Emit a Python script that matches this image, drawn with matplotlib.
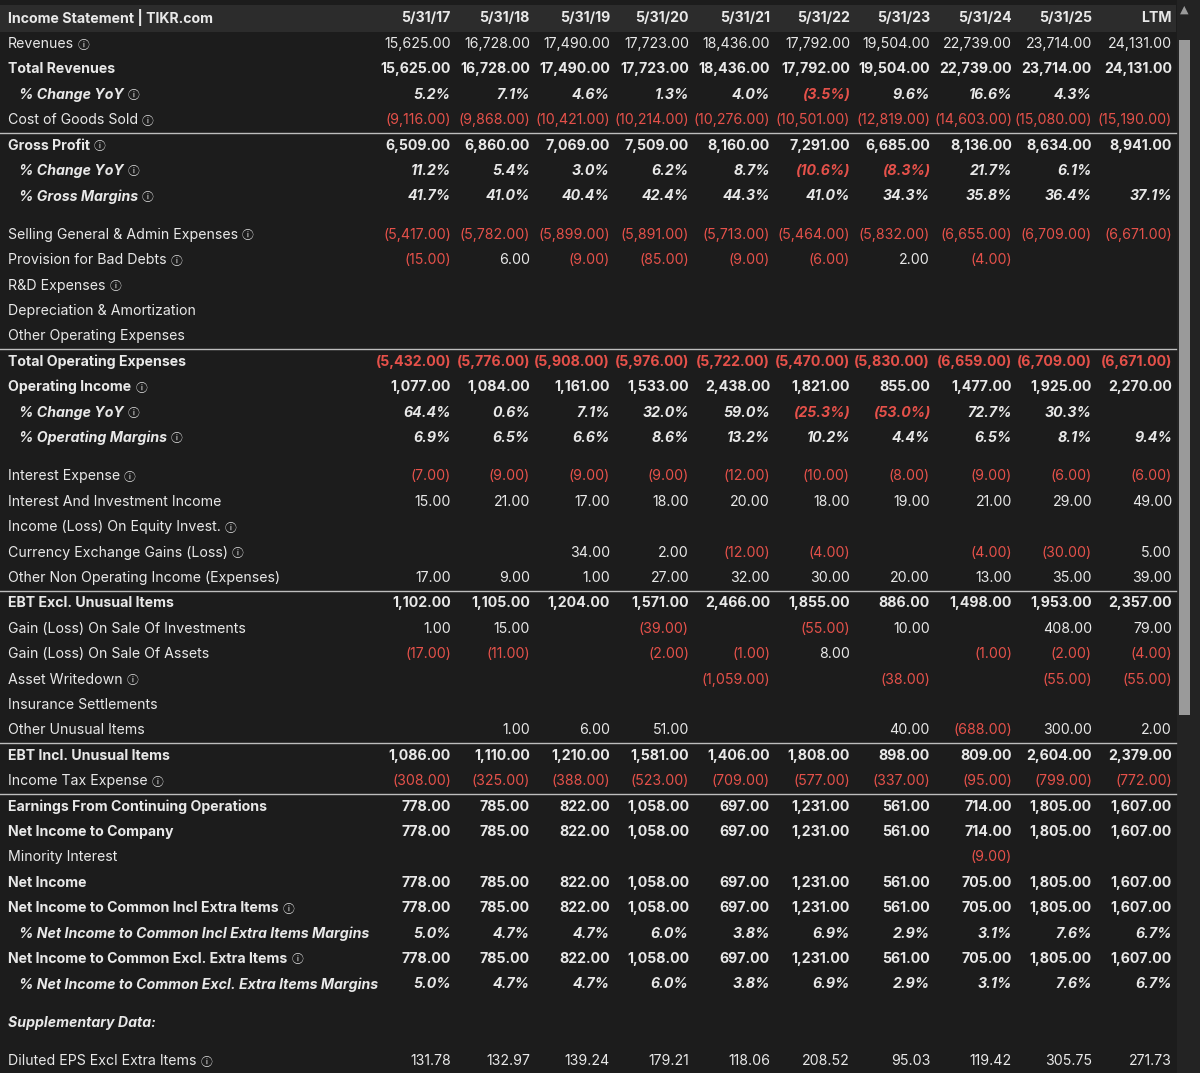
import matplotlib
matplotlib.use('Agg')
from matplotlib import pyplot as plt
from matplotlib.patches import Rectangle

plt.rcParams['font.family'] = ['Inter', 'DejaVu Sans']

N = None
years = ['5/31/17', '5/31/18', '5/31/19', '5/31/20', '5/31/21',
         '5/31/22', '5/31/23', '5/31/24', '5/31/25', 'LTM']

revenues = [15625, 16728, 17490, 17723, 18436, 17792, 19504, 22739, 23714, 24131]
rev_yoy = [5.2, 7.1, 4.6, 1.3, 4.0, -3.5, 9.6, 16.6, 4.3, N]
cogs = [-9116, -9868, -10421, -10214, -10276, -10501, -12819, -14603, -15080, -15190]
gross_profit = [6509, 6860, 7069, 7509, 8160, 7291, 6685, 8136, 8634, 8941]
gp_yoy = [11.2, 5.4, 3.0, 6.2, 8.7, -10.6, -8.3, 21.7, 6.1, N]
gross_margin = [41.7, 41.0, 40.4, 42.4, 44.3, 41.0, 34.3, 35.8, 36.4, 37.1]
sga = [-5417, -5782, -5899, -5891, -5713, -5464, -5832, -6655, -6709, -6671]
bad_debts = [-15, 6, -9, -85, -9, -6, 2, -4, N, N]
empty = [N] * 10
total_opex = [-5432, -5776, -5908, -5976, -5722, -5470, -5830, -6659, -6709, -6671]
op_income = [1077, 1084, 1161, 1533, 2438, 1821, 855, 1477, 1925, 2270]
op_yoy = [64.4, 0.6, 7.1, 32.0, 59.0, -25.3, -53.0, 72.7, 30.3, N]
op_margin = [6.9, 6.5, 6.6, 8.6, 13.2, 10.2, 4.4, 6.5, 8.1, 9.4]
int_exp = [-7, -9, -9, -9, -12, -10, -8, -9, -6, -6]
int_inc = [15, 21, 17, 18, 20, 18, 19, 21, 29, 49]
fx_gains = [N, N, 34, 2, -12, -4, N, -4, -30, 5]
other_nonop = [17, 9, 1, 27, 32, 30, 20, 13, 35, 39]
ebt_excl = [1102, 1105, 1204, 1571, 2466, 1855, 886, 1498, 1953, 2357]
gain_inv = [1, 15, N, -39, N, -55, 10, N, 408, 79]
gain_assets = [-17, -11, N, -2, -1, 8, N, -1, -2, -4]
writedown = [N, N, N, N, -1059, N, -38, N, -55, -55]
other_unusual = [N, 1, 6, 51, N, N, 40, -688, 300, 2]
ebt_incl = [1086, 1110, 1210, 1581, 1406, 1808, 898, 809, 2604, 2379]
income_tax = [-308, -325, -388, -523, -709, -577, -337, -95, -799, -772]
earn_cont = [778, 785, 822, 1058, 697, 1231, 561, 714, 1805, 1607]
minority = [N, N, N, N, N, N, N, -9, N, N]
net_income = [778, 785, 822, 1058, 697, 1231, 561, 705, 1805, 1607]
ni_margin = [5.0, 4.7, 4.7, 6.0, 3.8, 6.9, 2.9, 3.1, 7.6, 6.7]
eps = [131.78, 132.97, 139.24, 179.21, 118.06, 208.52, 95.03, 119.42, 305.75, 271.73]

# (label, values, style, info icon)   style: n normal, b bold, p percent row, s section
rows = [
    ('Revenues', revenues, 'n', True),
    ('Total Revenues', revenues, 'b', False),
    ('% Change YoY', rev_yoy, 'p', True),
    ('Cost of Goods Sold', cogs, 'n', True),
    ('Gross Profit', gross_profit, 'b', True),
    ('% Change YoY', gp_yoy, 'p', True),
    ('% Gross Margins', gross_margin, 'p', True),
    (None, None, 'gap', False),
    ('Selling General & Admin Expenses', sga, 'n', True),
    ('Provision for Bad Debts', bad_debts, 'n', True),
    ('R&D Expenses', empty, 'n', True),
    ('Depreciation & Amortization', empty, 'n', False),
    ('Other Operating Expenses', empty, 'n', False),
    ('Total Operating Expenses', total_opex, 'b', False),
    ('Operating Income', op_income, 'b', True),
    ('% Change YoY', op_yoy, 'p', True),
    ('% Operating Margins', op_margin, 'p', True),
    (None, None, 'gap', False),
    ('Interest Expense', int_exp, 'n', True),
    ('Interest And Investment Income', int_inc, 'n', False),
    ('Income (Loss) On Equity Invest.', empty, 'n', True),
    ('Currency Exchange Gains (Loss)', fx_gains, 'n', True),
    ('Other Non Operating Income (Expenses)', other_nonop, 'n', False),
    ('EBT Excl. Unusual Items', ebt_excl, 'b', False),
    ('Gain (Loss) On Sale Of Investments', gain_inv, 'n', False),
    ('Gain (Loss) On Sale Of Assets', gain_assets, 'n', False),
    ('Asset Writedown', writedown, 'n', True),
    ('Insurance Settlements', empty, 'n', False),
    ('Other Unusual Items', other_unusual, 'n', False),
    ('EBT Incl. Unusual Items', ebt_incl, 'b', False),
    ('Income Tax Expense', income_tax, 'n', True),
    ('Earnings From Continuing Operations', earn_cont, 'b', False),
    ('Net Income to Company', earn_cont, 'b', False),
    ('Minority Interest', minority, 'n', False),
    ('Net Income', net_income, 'b', False),
    ('Net Income to Common Incl Extra Items', net_income, 'b', True),
    ('% Net Income to Common Incl Extra Items Margins', ni_margin, 'p', False),
    ('Net Income to Common Excl. Extra Items', net_income, 'b', True),
    ('% Net Income to Common Excl. Extra Items Margins', ni_margin, 'p', False),
    (None, None, 'gap', False),
    ('Supplementary Data:', None, 's', False),
    (None, None, 'gap', False),
    ('Diluted EPS Excl Extra Items', eps, 'n', True),
]
lines_after = {'Cost of Goods Sold', 'Other Operating Expenses',
               'Other Non Operating Income (Expenses)', 'Other Unusual Items',
               'Income Tax Expense'}

BG = '#1c1c1c'
FG = '#e8e8e8'
RED = '#e5514a'
FS = 10.2
col_x = [451, 530, 610, 689, 770, 850, 930, 1012, 1092, 1172]

fig = plt.figure(figsize=(12, 10.73), dpi=100, facecolor=BG)
ax = fig.add_axes([0, 0, 1, 1])
ax.set_xlim(0, 1200)
ax.set_ylim(1073, 0)
ax.axis('off')

# header band
ax.add_patch(Rectangle((0, 5), 1176, 27, color='#2c2c2c', lw=0))
ax.text(8, 18, 'Income Statement | TIKR.com', color=FG, fontsize=FS,
        fontweight='bold', va='center')
for x, yr in zip(col_x, years):
    ax.text(x, 18, yr, color=FG, fontsize=FS, fontweight='bold',
            va='center', ha='right')

# scrollbar
ax.add_patch(Rectangle((1177, 0), 23, 1073, color='#232323', lw=0))
ax.add_patch(Rectangle((1179, 40), 11, 675, color='#9a9a9a', lw=0))
ax.text(1184.5, 10, '\u25b2', color='#9a9a9a', fontsize=8, ha='center',
        va='center', family=['DejaVu Sans'])

def fmt(v, pct):
    s = f'{abs(v):.1f}%' if pct else f'{abs(v):,.2f}'
    return f'({s})' if v < 0 else s

renderer = fig.canvas.get_renderer()
inv = ax.transData.inverted()

y = 44
step = 25.4
for label, vals, style, info in rows:
    if style == 'gap':
        y += 13
        continue
    weight = 'bold' if style in ('b', 'p', 's') else 'normal'
    fstyle = 'italic' if style in ('p', 's') else 'normal'
    lx = 19 if style == 'p' else 8
    t = ax.text(lx, y, label, color=FG, fontsize=FS, fontweight=weight,
                fontstyle=fstyle, va='center')
    if info:
        bb = t.get_window_extent(renderer)
        xe = inv.transform((bb.x1, 0))[0]
        ax.text(xe + 4, y + 1, '\u24d8', color=FG, fontsize=8.5, va='center',
                family=['Noto Sans CJK SC', 'DejaVu Sans'])
    if vals is not None:
        for x, v in zip(col_x, vals):
            if v is None:
                continue
            ax.text(x, y, fmt(v, style == 'p'), color=RED if v < 0 else FG,
                    fontsize=FS, fontweight=weight, fontstyle=fstyle,
                    va='center', ha='right')
    if label in lines_after:
        ax.plot([0, 1176], [y + 13, y + 13], color='#bdbdbd', lw=1)
    y += step

fig.savefig('out.png', facecolor=BG)
